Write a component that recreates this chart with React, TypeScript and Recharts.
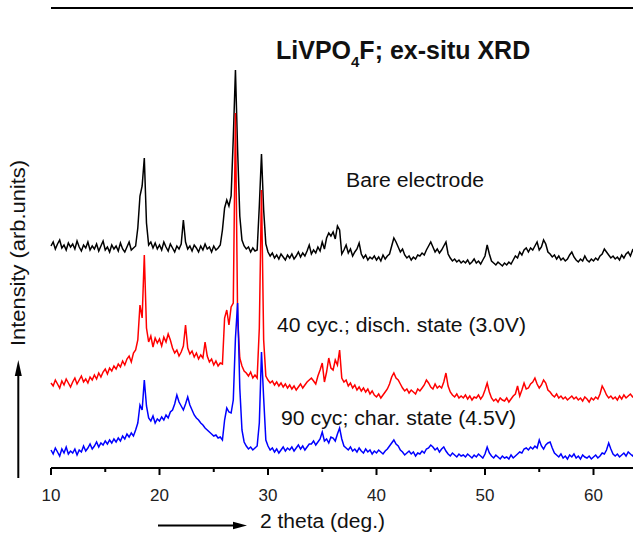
import React from 'react';
import { LineChart, Line, XAxis, YAxis, ReferenceLine } from 'recharts';

// 2-theta grid: 10.0 .. 63.8 deg, step 0.2
const THETA_START = 10;
const THETA_STEP = 0.2;

// intensities (arb. units), offset-stacked as in the figure
const bare = [
  222, 226, 219, 224, 228, 220, 223, 218, 225, 221,
  224, 219, 227, 221, 217, 223, 220, 226, 218, 222,
  219, 224, 217, 222, 227, 218, 221, 216, 223, 219,
  222, 217, 225, 219, 216, 221, 226, 218, 220, 222,
  240, 272, 282, 310, 245, 223, 226, 220, 225, 219,
  223, 218, 226, 221, 217, 224, 220, 216, 222, 219,
  224, 248, 226, 219, 222, 217, 223, 220, 216, 222,
  218, 224, 219, 221, 216, 222, 218, 220, 223, 238,
  260, 268, 262, 272, 330, 398, 318, 252, 228, 222,
  219, 221, 216, 220, 217, 218, 262, 314, 258, 224,
  216, 212, 215, 210, 213, 209, 214, 211, 208, 213,
  210, 214, 209, 212, 216, 211, 215, 212, 217, 223,
  214, 218, 215, 221, 217, 226, 219, 230, 235, 232,
  236, 229, 242, 238, 214, 218, 223, 215, 219, 212,
  216, 219, 225, 214, 210, 213, 208, 211, 209, 212,
  208, 211, 207, 213, 209, 212, 214, 222, 230, 226,
  221, 216, 219, 213, 210, 212, 208, 211, 209, 213,
  212, 215, 213, 218, 222, 226, 221, 216, 219, 215,
  218, 222, 226, 214, 210, 207, 209, 206, 208, 205,
  207, 205, 208, 204, 206, 209, 205, 207, 204, 208,
  212, 223, 214, 207, 205, 203, 206, 204, 202, 205,
  203, 206, 204, 208, 212, 210, 216, 213, 218, 220,
  216, 220, 218, 222, 226, 218, 221, 228, 224, 216,
  214, 211, 213, 209, 212, 208, 210, 207, 209, 213,
  216, 211, 208, 206, 209, 207, 212, 208, 206, 209,
  207, 210, 208, 212, 214, 219, 216, 213, 210, 212,
  209, 211, 208, 213, 210, 214, 216, 212, 218, 215,
];

const disch = [
  85, 82, 88, 84, 80, 87, 83, 89, 85, 81,
  86, 90, 84, 88, 92, 86, 89, 85, 91, 88,
  93, 89, 95, 91, 96, 99, 94, 100, 97, 102,
  99, 104, 101, 107, 103, 109, 112, 106, 115, 118,
  128, 163, 150, 213, 140, 126, 132, 121, 130, 125,
  129, 122, 131, 126, 134, 128, 120, 115, 118, 112,
  116, 122, 143, 120, 114, 117, 111, 115, 109, 113,
  110, 126, 112, 106, 109, 103, 107, 102, 105, 104,
  150, 158, 143, 161, 165, 355, 150, 110, 102, 97,
  95, 92, 96, 90, 93, 90, 140, 278, 128, 92,
  88, 85, 87, 83, 86, 82, 85, 81, 84, 80,
  83, 79, 82, 78, 81, 84, 80, 83, 86, 88,
  90, 87, 84, 92, 98, 105, 86, 96, 110, 100,
  98, 108, 103, 118, 90, 86, 88, 82, 85, 80,
  83, 78, 81, 77, 80, 76, 79, 74, 77, 73,
  71, 74, 70, 73, 76, 79, 84, 91, 95, 90,
  88, 84, 80, 77, 79, 75, 78, 76, 74, 79,
  77, 80, 83, 88, 85, 81, 79, 84, 80, 82,
  80, 86, 95, 82, 76, 73, 71, 74, 70, 72,
  70, 73, 69, 72, 68, 71, 70, 73, 69, 72,
  78, 85, 76, 70, 67, 69, 66, 70, 68, 67,
  70, 66, 69, 72, 74, 82, 72, 78, 85, 79,
  80, 84, 86, 90, 84, 80, 83, 88, 85, 78,
  76, 73, 71, 74, 70, 72, 69, 71, 68, 70,
  72, 69, 71, 68, 70, 67, 71, 69, 66, 70,
  68, 71, 69, 74, 82, 78, 73, 70, 72, 69,
  71, 68, 72, 69, 73, 70, 72, 74, 71, 73,
];

const charg = [
  18, 14, 20, 16, 12, 19, 15, 21, 14, 17,
  15, 19, 13, 18, 16, 22, 17, 20, 24, 19,
  22, 26, 21, 25, 23, 27, 24, 28, 25, 29,
  26, 30, 27, 32, 29, 34, 31, 35, 32, 38,
  45, 63, 58, 88, 62, 50, 47, 52, 45, 49,
  47, 51, 48, 53, 50, 56, 58, 64, 73, 66,
  62, 58, 64, 71, 63, 58, 53, 50, 48, 45,
  43, 40, 38, 36, 34, 32, 33, 30, 31, 28,
  48, 60, 56, 55, 68, 130, 165, 80, 38, 26,
  22, 19, 21, 18, 20, 22, 45, 116, 70, 28,
  22, 18, 20, 16, 19, 15, 18, 21, 17, 20,
  18, 21, 17, 20, 23, 19, 22, 18, 21, 24,
  24, 27, 23, 26, 29, 36, 27, 29, 25, 31,
  30, 27, 34, 40, 29, 22, 20, 18, 21, 17,
  19, 16, 20, 17, 15, 19, 16, 18, 14, 17,
  15, 18, 16, 14, 17, 19, 22, 25, 28, 24,
  22, 18, 16, 13, 15, 17, 14, 16, 12, 15,
  14, 17, 15, 19, 20, 23, 21, 18, 20, 16,
  19, 21, 17, 14, 12, 15, 13, 11, 14, 12,
  13, 11, 14, 12, 10, 13, 11, 14, 12, 10,
  14, 21, 15, 12, 10, 13, 11, 9, 12, 10,
  11, 9, 13, 10, 12, 14, 16, 15, 19, 20,
  18, 21, 19, 22, 20, 28, 22, 19, 23, 25,
  26, 20, 15, 13, 11, 14, 10, 12, 9, 13,
  11, 14, 10, 12, 9, 13, 11, 10, 12, 9,
  11, 13, 10, 12, 15, 14, 18, 25, 19, 14,
  12, 14, 11, 13, 15, 12, 16, 14, 12, 15,
];

const xTicks = [10, 15, 20, 25, 30, 35, 40, 45, 50, 55, 60, 65];
const Y_MAX = 460;

const rows = bare.map((v, i) => ({
  theta: Math.round((THETA_START + i * THETA_STEP) * 10) / 10,
  bare: v,
  disch: disch[i],
  charg: charg[i],
}));

const FONT = '"Liberation Sans", Arial, Helvetica, sans-serif';

const XTick = ({ x, y, payload }: any) => {
  const major = payload.value % 10 === 0;
  return (
    <g>
      <line x1={x} x2={x} y1={y} y2={y + (major ? 7 : 4)} stroke="#000" strokeWidth={2} />
      {major && (
        <text x={x} y={y + 33} textAnchor="middle" fontSize={17} fontFamily={FONT} fill="#222">
          {payload.value}
        </text>
      )}
    </g>
  );
};

export default function App() {
  return (
    <div
      style={{
        position: 'absolute',
        left: 0,
        top: 0,
        width: 633,
        height: 536,
        overflow: 'hidden',
        background: '#fff',
      }}
    >
      <LineChart width={702} height={536} data={rows} margin={{ top: 8, right: 0, left: 51, bottom: 38 }}>
        <XAxis
          type="number"
          dataKey="theta"
          domain={[10, 70]}
          ticks={xTicks}
          tick={<XTick />}
          tickLine={false}
          tickSize={0}
          tickMargin={0}
          height={30}
          axisLine={{ stroke: '#000', strokeWidth: 2 }}
        />
        <YAxis
          type="number"
          domain={[0, Y_MAX]}
          tick={false}
          tickLine={false}
          width={0}
          axisLine={{ stroke: '#000', strokeWidth: 2 }}
        />
        <ReferenceLine y={Y_MAX} stroke="#000" strokeWidth={2} />
        <Line dataKey="bare" stroke="#000" strokeWidth={1.5} dot={false} isAnimationActive={false} />
        <Line dataKey="disch" stroke="#ff0000" strokeWidth={1.5} dot={false} isAnimationActive={false} />
        <Line dataKey="charg" stroke="#0000ff" strokeWidth={1.5} dot={false} isAnimationActive={false} />
      </LineChart>

      <svg
        width={633}
        height={536}
        style={{ position: 'absolute', left: 0, top: 0, pointerEvents: 'none' }}
        fontFamily={FONT}
      >
        <text x={276} y={59} fontSize={25} fontWeight="bold" fill="#111">
          LiVPO
          <tspan fontSize={15} dy={8}>4</tspan>
          <tspan dy={-8}>F; ex-situ XRD</tspan>
        </text>
        <text x={346} y={187} fontSize={20} fill="#111" textLength={138} lengthAdjust="spacingAndGlyphs">
          Bare electrode
        </text>
        <text x={277} y={332} fontSize={20} fill="#111" textLength={249} lengthAdjust="spacingAndGlyphs">
          40 cyc.; disch. state (3.0V)
        </text>
        <text x={281} y={425} fontSize={20} fill="#111" textLength={235} lengthAdjust="spacingAndGlyphs">
          90 cyc; char. state (4.5V)
        </text>

        <text
          x={25}
          y={253}
          fontSize={20}
          fill="#111"
          textAnchor="middle"
          transform="rotate(-90 25 253)"
          textLength={186}
          lengthAdjust="spacingAndGlyphs"
        >
          Intensity (arb.units)
        </text>
        <line x1={18.3} y1={478} x2={18.3} y2={372} stroke="#000" strokeWidth={2} />
        <polygon points="18.3,360 14.8,376 21.8,376" fill="#000" />

        <text x={260} y={528} fontSize={20} fill="#111" textLength={125} lengthAdjust="spacingAndGlyphs">
          2 theta (deg.)
        </text>
        <line x1={158} y1={525.5} x2={236} y2={525.5} stroke="#000" strokeWidth={2} />
        <polygon points="247,525.5 233,521.8 233,529.2" fill="#000" />
      </svg>
    </div>
  );
}
